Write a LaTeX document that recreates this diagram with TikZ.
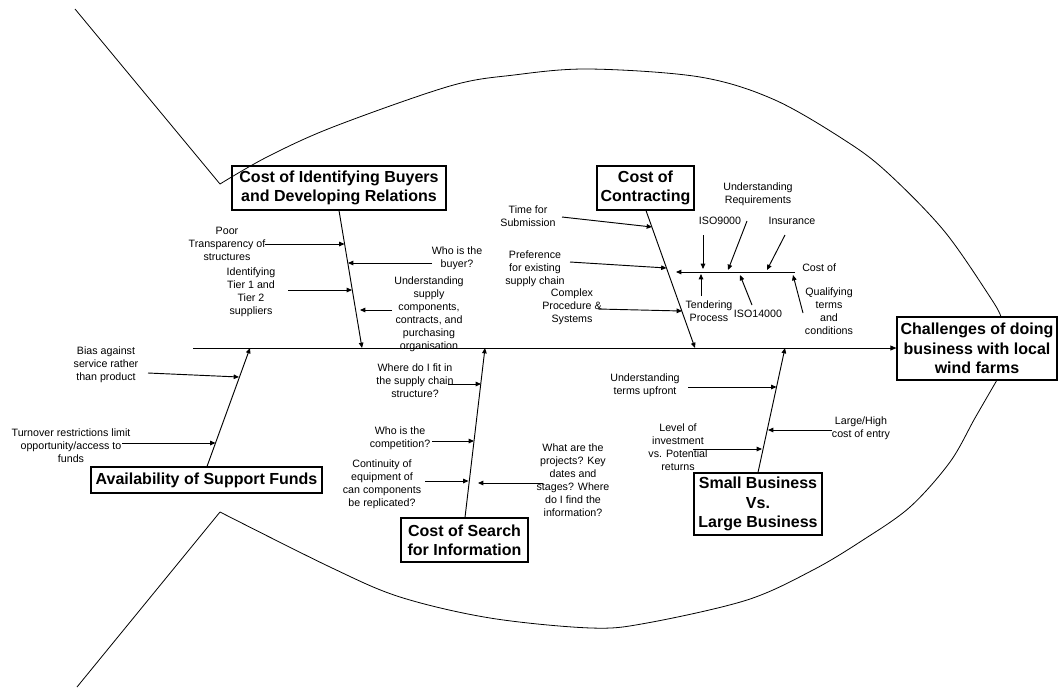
\documentclass[tikz,border=0pt]{standalone}
\usepackage{fontspec}
\setmainfont{Liberation Sans}
\usetikzlibrary{arrows.meta}

\tikzset{
  fish/.style={line width=0.6pt},
  spine/.style={line width=0.75pt, -{Triangle[length=4.5pt,width=3.6pt]}},
  arr/.style={line width=0.7pt, -{Triangle[length=4pt,width=3.4pt]}},
  lbl/.style={font=\fontsize{8}{9.75}\selectfont, align=center, inner sep=0pt},
  catbox/.style={draw, line width=0.8pt, font=\fontsize{12}{14.5}\selectfont\bfseries,
                 align=center, inner sep=0pt},
}

\begin{document}
\begin{tikzpicture}[x=0.75pt,y=-0.75pt]
\useasboundingbox (0,0) rectangle (1058,687);

% ---------- fish outline ----------
\draw[fish] (75,9) -- (220,184);
\draw[fish] (77,687) -- (220,512);
\draw[fish] plot[smooth,tension=0.55] coordinates {(220,184) (267,157) (333,127) (450,86) (514,75) (589,69) (700,77) (775,100) (849,143) (890,175) (945,232) (992,300) (1001,317)};
\draw[fish] plot[smooth,tension=0.55] coordinates {(220,512) (330,567) (400,597) (490,618) (591,628) (647,623) (747,600) (813,570) (863,540) (910,507) (950,462) (975,418) (997,380)};

% ---------- head and spine ----------
\node[catbox, minimum width=120pt, minimum height=47.25pt] (head) at (977,348.5)
  {Challenges of doing\\business with local\\wind farms};
\coordinate (tail) at (193,348);
\draw[spine] (tail) -- (head.west |- tail);

% ---------- category boxes ----------
\node[catbox, minimum width=160.5pt, minimum height=33pt] (buyers) at (339,188)
  {Cost of Identifying Buyers\\and Developing Relations};
\node[catbox, minimum width=72.75pt, minimum height=33pt] (contract) at (645.5,188)
  {Cost of\\Contracting};
\node[catbox, minimum width=173.25pt, minimum height=19.5pt] (funds) at (206.5,480)
  {Availability of Support Funds};
\node[catbox, minimum width=95.25pt, minimum height=33pt] (search) at (464.5,540)
  {Cost of Search\\for Information};
\node[catbox, minimum width=96pt, minimum height=46.5pt] (size) at (758,504)
  {Small Business\\Vs.\\Large Business};

% ---------- main bones ----------
\coordinate (buyersTip) at (362,348);
\coordinate (contractTip) at (695,348);
\coordinate (fundsTip) at (250,348);
\coordinate (searchTip) at (485,348);
\coordinate (sizeTip) at (785,348);
\draw[arr] (buyers.south -| 339,0) -- (buyersTip);
\draw[arr] (contract.south -| 646,0) -- (contractTip);
\draw[arr] (funds.north -| 207,0) -- (fundsTip);
\draw[arr] (search.north -| 465,0) -- (searchTip);
\draw[arr] (size.north -| 758,0) -- (sizeTip);

% ---------- buyers and relations ----------
\node[lbl] (poor) at (227,244) {Poor\\Transparency of\\structures};
\node[lbl] (who) at (457,258) {Who is the\\buyer?};
\node[lbl] (tier) at (251,292) {Identifying\\Tier 1 and\\Tier 2\\suppliers};
\node[lbl] (supply) at (429,314.5) {Understanding\\supply\\components,\\contracts, and\\purchasing\\organisation};
\coordinate (poorS) at (265,244);   \coordinate (poorE) at (344.5,244);
\coordinate (whoS) at (432,263);    \coordinate (whoE) at (348,263);
\coordinate (tierS) at (288,290);   \coordinate (tierE) at (352,290);
\coordinate (supplyS) at (392,310); \coordinate (supplyE) at (360,310);
\draw[arr] (poorS) -- (poorE);
\draw[arr] (whoS) -- (whoE);
\draw[arr] (tierS) -- (tierE);
\draw[arr] (supplyS) -- (supplyE);

% ---------- contracting ----------
\node[lbl] (time) at (528,216.5) {Time for\\Submission};
\node[lbl] (pref) at (535,269) {Preference\\for existing\\supply chain};
\node[lbl] (complex) at (572,306.5) {Complex\\Procedure \&\\Systems};
\coordinate (timeS) at (562,217);    \coordinate (timeE) at (652,227);
\coordinate (prefS) at (570,262);    \coordinate (prefE) at (666.5,268);
\coordinate (complexS) at (598,309); \coordinate (complexE) at (682,311);
\draw[arr] (timeS) -- (timeE);
\draw[arr] (prefS) -- (prefE);
\draw[arr] (complexS) -- (complexE);

% sub-branch: cost of qualifying
\node[lbl, anchor=west] (costof) at (802,268) {Cost of};
\coordinate (costS) at (795,272); \coordinate (costE) at (676,272);
\draw[arr] (costS) -- (costE);
\node[lbl] (iso9) at (720,221) {ISO9000};
\node[lbl] (req) at (758,194.5) {Understanding\\Requirements};
\node[lbl] (ins) at (792,221) {Insurance};
\node[lbl] (tender) at (709,311) {Tendering\\Process};
\node[lbl] (iso14) at (758,314) {ISO14000};
\node[lbl] (qual) at (829,311) {Qualifying\\terms\\and\\conditions};
\coordinate (iso9S) at (703,235);   \coordinate (iso9E) at (703,269);
\coordinate (tenderS) at (701,296); \coordinate (tenderE) at (701,274);
\coordinate (reqS) at (747,221);    \coordinate (reqE) at (728,270);
\coordinate (insS) at (785,235);    \coordinate (insE) at (767,270);
\coordinate (iso14S) at (752,305);  \coordinate (iso14E) at (740,275);
\coordinate (qualS) at (803,313);   \coordinate (qualE) at (793,275);
\draw[arr] (iso9S) -- (iso9E);
\draw[arr] (tenderS) -- (tenderE);
\draw[arr] (reqS) -- (reqE);
\draw[arr] (insS) -- (insE);
\draw[arr] (iso14S) -- (iso14E);
\draw[arr] (qualS) -- (qualE);

% ---------- support funds ----------
\node[lbl] (bias) at (106,365) {Bias against\\service rather\\than product};
\node[lbl] (turn) at (71,446) {Turnover restrictions limit\\opportunity/access to\\funds};
\coordinate (biasS) at (148,373); \coordinate (biasE) at (239,377);
\coordinate (turnS) at (122,443); \coordinate (turnE) at (215.5,443);
\draw[arr] (biasS) -- (biasE);
\draw[arr] (turnS) -- (turnE);

% ---------- search for information ----------
\node[lbl] (fit) at (415,381) {Where do I fit in\\the supply chain\\structure?};
\node[lbl] (comp) at (400,438.5) {Who is the\\competition?};
\node[lbl] (cont) at (382,484.5) {Continuity of\\equipment of\\can components\\be replicated?};
\node[lbl] (proj) at (573,480.5) {What are the\\projects? Key\\dates and\\stages? Where\\do I find the\\information?};
\coordinate (fitS) at (448,384);  \coordinate (fitE) at (481,384);
\coordinate (compS) at (432,441); \coordinate (compE) at (474,441);
\coordinate (contS) at (425,481); \coordinate (contE) at (468.5,481);
\coordinate (projS) at (543,483); \coordinate (projE) at (478,483);
\draw[arr] (fitS) -- (fitE);
\draw[arr] (compS) -- (compE);
\draw[arr] (contS) -- (contE);
\draw[arr] (projS) -- (projE);

% ---------- small vs large business ----------
\node[lbl] (terms) at (645,385.5) {Understanding\\terms upfront};
\node[lbl] (entry) at (861,428) {Large/High\\cost of entry};
\node[lbl] (invest) at (678,447) {Level of\\investment\\vs. Potential\\returns};
\coordinate (termsS) at (688,387);  \coordinate (termsE) at (776.5,387);
\coordinate (entryS) at (832,430);  \coordinate (entryE) at (768,430);
\coordinate (investS) at (693,449); \coordinate (investE) at (762,449);
\draw[arr] (termsS) -- (termsE);
\draw[arr] (entryS) -- (entryE);
\draw[arr] (investS) -- (investE);
\end{tikzpicture}
\end{document}
